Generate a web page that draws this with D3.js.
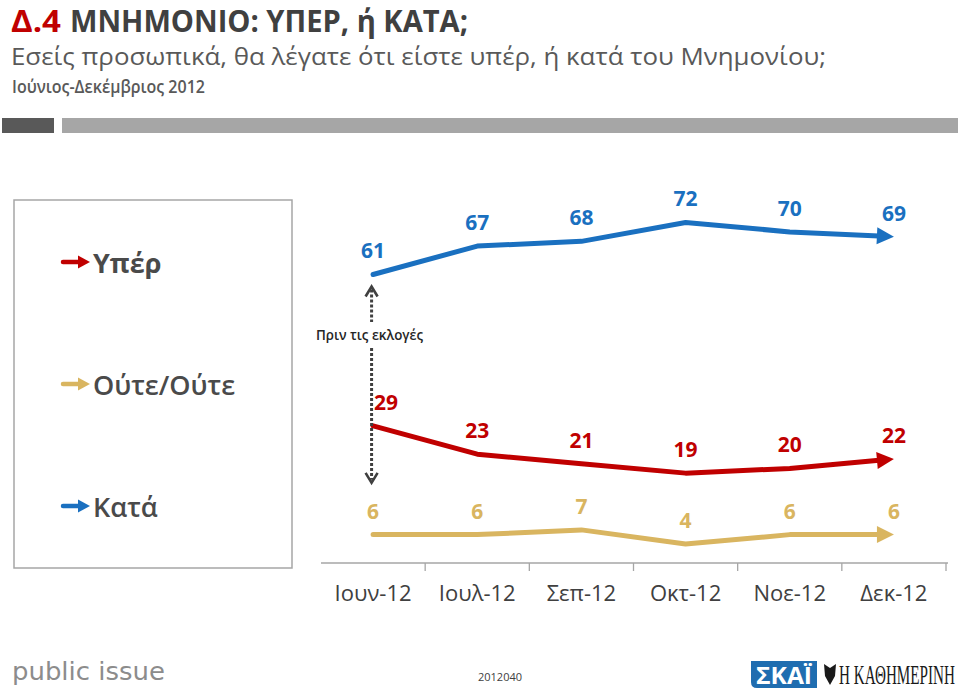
<!DOCTYPE html>
<html>
<head>
<meta charset="utf-8">
<script src="https://cdn.jsdelivr.net/npm/d3@7"></script>
<style>
  html, body { margin: 0; padding: 0; background: #fff; }
  svg { display: block; }
  svg { font-family: "Open Sans", "Noto Sans", sans-serif; }
</style>
</head>
<body>
<svg id="chart" width="960" height="690"></svg>
<script>
// ---------- data ----------
const months = ["Ιουν-12", "Ιουλ-12", "Σεπ-12", "Οκτ-12", "Νοε-12", "Δεκ-12"];
const blueValues = [61, 67, 68, 72, 70, 69];
const redValues  = [29, 23, 21, 19, 20, 22];
const goldValues = [6, 6, 7, 4, 6, 6];
const legendLabels = ["Υπέρ", "Ούτε/Ούτε", "Κατά"];
const legendColors = ["#c00000", "#d9b560", "#1a70c0"];
const titleMain = "ΜΝΗΜΟΝΙΟ: ΥΠΕΡ, ή ΚΑΤΑ;";
const titleNum = "Δ.4";
const subtitle = "Εσείς προσωπικά, θα λέγατε ότι είστε υπέρ, ή κατά του Μνημονίου;";
const period = "Ιούνιος-Δεκέμβριος 2012";
const noteText = "Πριν τις εκλογές";
const codeText = "2012040";

const series = [
  { values: blueValues, color: "#1a70c0" },
  { values: redValues,  color: "#c00000" },
  { values: goldValues, color: "#d9b560" }
];

const svg = d3.select("#chart");

function fitWidth(sel, target) {
  const node = sel.node();
  let fs = parseFloat(sel.attr("font-size"));
  for (let k = 0; k < 4; k++) {
    const w = node.getComputedTextLength();
    if (w > 0) fs = fs * target / w;
    sel.attr("font-size", fs);
  }
  return fs;
}

// ---------- header ----------
svg.append("text").attr("x", 11).attr("y", 32).attr("font-size", 30).attr("font-weight", 700)
  .attr("fill", "#c00000").attr("textLength", 50).attr("lengthAdjust", "spacingAndGlyphs").text(titleNum);
svg.append("text").attr("x", 70).attr("y", 32).attr("font-size", 30).attr("font-weight", 700)
  .attr("fill", "#404040").attr("textLength", 398).attr("lengthAdjust", "spacingAndGlyphs").text(titleMain);

svg.append("text").attr("x", 11).attr("y", 65).attr("font-size", 24).attr("fill", "#595959")
  .attr("textLength", 815).attr("lengthAdjust", "spacingAndGlyphs").text(subtitle);

svg.append("text").attr("x", 12).attr("y", 93).attr("font-size", 18).attr("font-weight", 600)
  .attr("fill", "#595959").attr("textLength", 193).attr("lengthAdjust", "spacingAndGlyphs").text(period);

svg.append("rect").attr("x", 2).attr("y", 118).attr("width", 52).attr("height", 15).attr("fill", "#595959");
svg.append("rect").attr("x", 62).attr("y", 118).attr("width", 896).attr("height", 15).attr("fill", "#a6a6a6");

// ---------- legend box ----------
svg.append("rect").attr("x", 14).attr("y", 200).attr("width", 278).attr("height", 368)
  .attr("fill", "none").attr("stroke", "#a6a6a6").attr("stroke-width", 1.5);

const legendY = [262, 384, 506];
const legendWeights = [700, 600, 600];
legendLabels.forEach((lab, i) => {
  const cy = legendY[i];
  const g = svg.append("g");
  g.append("line").attr("x1", 63).attr("x2", 79).attr("y1", cy).attr("y2", cy)
    .attr("stroke", legendColors[i]).attr("stroke-width", 4.5).attr("stroke-linecap", "round");
  g.append("path").attr("d", `M78,${cy - 6.5} L90,${cy} L78,${cy + 6.5} Z`).attr("fill", legendColors[i]);
  g.append("text").attr("x", 93).attr("y", cy + 11).attr("font-size", 27)
    .attr("font-weight", legendWeights[i]).attr("fill", "#4a4a4a").text(lab);
});

// ---------- scales ----------
const x = d3.scaleBand().domain(months).range([321, 946]).padding(0);
const y = d3.scaleLinear().domain([0, 100]).range([563, 90]);
const cx = m => x(m) + x.bandwidth() / 2;

// ---------- axis ----------
const axisG = svg.append("g").attr("transform", "translate(0,563)");
const axis = d3.axisBottom(x).tickSize(0).tickPadding(0);
axisG.call(axis);
axisG.attr("font-family", null);
axisG.select(".domain").attr("stroke", "#a6a6a6").attr("stroke-width", 1.3).attr("d", "M321,0H948");
axisG.selectAll(".tick text").attr("font-size", 20).attr("fill", "#404040")
  .style("font-family", "'Open Sans', sans-serif").attr("dy", 0).attr("y", 38);
(function () {
  const first = axisG.select(".tick text");
  const fs = fitWidth(first, 77);
  axisG.selectAll(".tick text").attr("font-size", fs);
})();
const boundaries = months.map(m => x(m) + x.bandwidth());
axisG.selectAll("line.bound").data(boundaries).enter().append("line")
  .attr("class", "bound").attr("x1", d => d).attr("x2", d => d).attr("y1", 0).attr("y2", 8)
  .attr("stroke", "#a6a6a6").attr("stroke-width", 1.3);

// ---------- lines with arrow ends ----------
const lineGen = d3.line();
series.forEach(s => {
  const pts = months.map((m, i) => [cx(m), y(s.values[i])]);
  const tip = pts[pts.length - 1];
  const prev = pts[pts.length - 2];
  const dx = tip[0] - prev[0], dy = tip[1] - prev[1];
  const len = Math.hypot(dx, dy);
  const ux = dx / len, uy = dy / len;
  const headLen = 17, headHalf = 8.5;
  const base = [tip[0] - ux * headLen, tip[1] - uy * headLen];
  const linePts = pts.slice(0, -1).concat([[tip[0] - ux * (headLen - 2), tip[1] - uy * (headLen - 2)]]);
  svg.append("path").attr("d", lineGen(linePts)).attr("fill", "none")
    .attr("stroke", s.color).attr("stroke-width", 5).attr("stroke-linejoin", "round").attr("stroke-linecap", "round");
  const px = -uy, py = ux;
  svg.append("path")
    .attr("d", `M${tip[0]},${tip[1]} L${base[0] + px * headHalf},${base[1] + py * headHalf} L${base[0] - px * headHalf},${base[1] - py * headHalf} Z`)
    .attr("fill", s.color);

  svg.selectAll(null).data(s.values).enter().append("text")
    .attr("x", (d, i) => cx(months[i]) + (s.color === "#c00000" && i === 0 ? 13 : 0))
    .attr("y", (d, i) => y(d) - 16)
    .attr("text-anchor", "middle").attr("font-size", 21).attr("font-weight", 700)
    .attr("fill", s.color).text(d => d);
});

// ---------- dotted double arrow ----------
const ax = cx(months[0]) - 1.5;
const topTip = y(blueValues[0]) + 11;
const botTip = y(redValues[0]) + 58;
const noteY = 335;
const dotted = svg.append("g").attr("stroke", "#404040").attr("fill", "none");
dotted.append("line").attr("x1", ax).attr("x2", ax).attr("y1", topTip + 4).attr("y2", noteY - 13)
  .attr("stroke-width", 3).attr("stroke-dasharray", "3,2");
dotted.append("line").attr("x1", ax).attr("x2", ax).attr("y1", noteY + 13).attr("y2", botTip - 4)
  .attr("stroke-width", 3).attr("stroke-dasharray", "3,2");
dotted.append("path").attr("d", `M${ax - 6},${topTip + 11} L${ax},${topTip + 1} L${ax + 6},${topTip + 11}`)
  .attr("stroke-width", 2.6);
dotted.append("path").attr("d", `M${ax - 6},${botTip - 11} L${ax},${botTip - 1} L${ax + 6},${botTip - 11}`)
  .attr("stroke-width", 2.6);
svg.append("text").attr("x", 316).attr("y", noteY + 5)
  .attr("font-size", 14).attr("font-weight", 600).attr("fill", "#262626")
  .attr("textLength", 107).attr("lengthAdjust", "spacingAndGlyphs").text(noteText);

// ---------- footer ----------
const pg = svg.append("g");
const pt = pg.append("text").attr("x", 0).attr("y", 0).attr("font-size", 25)
  .style("font-family", "'DejaVu Sans', sans-serif").attr("fill", "#8c8c8c").text("public issue");
const pw = pt.node().getComputedTextLength();
pg.attr("transform", `translate(12,680) scale(${153 / pw},1)`);

svg.append("text").attr("x", 478).attr("y", 681).attr("font-size", 11).attr("fill", "#404040").text(codeText);

svg.append("path").attr("d", "M751,661 H817 V688 H757 Q751,688 751,682 Z").attr("fill", "#1f6db0");
svg.append("text").attr("x", 756).attr("y", 684).attr("font-size", 23).attr("font-weight", 700)
  .attr("fill", "#fff").attr("textLength", 56).attr("lengthAdjust", "spacingAndGlyphs").text("ΣΚΑΪ");
svg.append("path")
  .attr("d", "M824,664 L830,668 L836,664 L835,676 L830,685 L825,676 Z")
  .attr("fill", "#1a1a1a");
const kg = svg.append("g");
const kt = kg.append("text").attr("x", 0).attr("y", 0).attr("font-size", 27)
  .style("font-family", "'Liberation Serif', serif").attr("fill", "#1a1a1a").text("Η ΚΑΘΗΜΕΡΙΝΗ");
const kw = kt.node().getComputedTextLength();
kg.attr("transform", `translate(839,684) scale(${116 / kw},1)`);
</script>
</body>
</html>
